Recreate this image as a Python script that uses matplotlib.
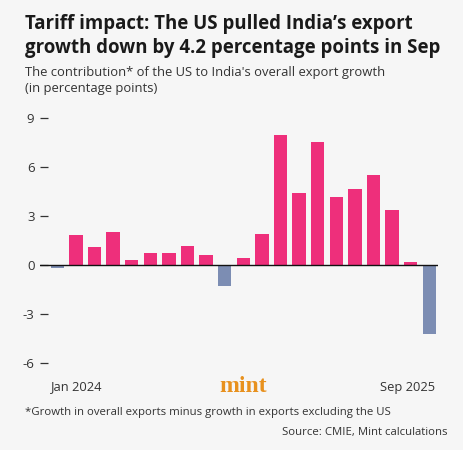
import matplotlib.pyplot as plt
import numpy as np

# Monthly US contribution to India's export growth, Jan 2024 - Sep 2025
months = ["Jan 2024", "Feb 2024", "Mar 2024", "Apr 2024", "May 2024", "Jun 2024",
          "Jul 2024", "Aug 2024", "Sep 2024", "Oct 2024", "Nov 2024", "Dec 2024",
          "Jan 2025", "Feb 2025", "Mar 2025", "Apr 2025", "May 2025", "Jun 2025",
          "Jul 2025", "Aug 2025", "Sep 2025"]
contribution = [-0.15, 1.88, 1.12, 2.05, 0.32, 0.77, 0.77, 1.2, 0.64, -1.27, 0.46,
                1.92, 8.0, 4.42, 7.52, 4.17, 4.7, 5.55, 3.36, 0.19, -4.2]
y_ticks = [-6, -3, 0, 3, 6, 9]

PINK = "#EE2F7B"
BLUE = "#7C8DB3"
BG = "#F6F6F6"
TEXT = "#333333"

plt.rcParams['font.family'] = ['Open Sans', 'DejaVu Sans']

fig = plt.figure(figsize=(4.63, 4.5), dpi=100, facecolor=BG)
W, H = 463, 450
ax_left, ax_right = 40, 437.7
ax_top, ax_bottom = 118.3, 363.3
ax = fig.add_axes([ax_left / W, 1 - ax_bottom / H,
                   (ax_right - ax_left) / W, (ax_bottom - ax_top) / H])
ax.set_facecolor(BG)

x = np.arange(len(months))
colors = [PINK if v >= 0 else BLUE for v in contribution]
ax.bar(x, contribution, width=0.72, color=colors, zorder=2)
ax.axhline(0, color="#111111", lw=1.0, zorder=3)

ax.set_xlim(-0.93, len(months) - 1 + 0.45)
ax.set_ylim(-6, 9)
ax.set_yticks(y_ticks)
ax.set_yticklabels([str(t) for t in y_ticks])
ax.tick_params(axis='y', direction='in', length=6, width=0.9, color="#333333",
               pad=4, labelsize=9.5, labelcolor=TEXT)
ax.tick_params(axis='x', bottom=False, labelbottom=False)
for s in ax.spines.values():
    s.set_visible(False)

# Titles (placed by baseline)
title_lines = ["Tariff impact: The US pulled India\u2019s export",
               "growth down by 4.2 percentage points in Sep"]
for line, base in zip(title_lines, [29.3, 52.7]):
    fig.text(25 / W, 1 - base / H, line, fontsize=13.4, fontweight='bold',
             color="#1a1a1a", va='baseline', ha='left')
sub_lines = ["The contribution* of the US to India's overall export growth",
             "(in percentage points)"]
for line, base in zip(sub_lines, [76, 91.7]):
    fig.text(25 / W, 1 - base / H, line, fontsize=9.4, color=TEXT,
             va='baseline', ha='left')

# x-axis end labels
fig.text(50.7 / W, 1 - 387 / H, months[0], fontsize=9.3, color=TEXT, ha='left', va='center')
fig.text(435 / W, 1 - 387 / H, months[-1], fontsize=9.3, color=TEXT, ha='right', va='center')
fig.text(243 / W, 1 - 387 / H, "mint", fontsize=17, fontweight='bold', color="#E8911E",
         family='Liberation Serif', ha='center', va='center')

# Footnotes
fig.text(25 / W, 1 - 412 / H, "*Growth in overall exports minus growth in exports excluding the US",
         fontsize=8.2, color=TEXT, ha='left', va='center')
fig.text(448 / W, 1 - 433 / H, "Source: CMIE, Mint calculations",
         fontsize=8.2, color=TEXT, ha='right', va='center')

fig.savefig("out.png", dpi=100, facecolor=BG)
